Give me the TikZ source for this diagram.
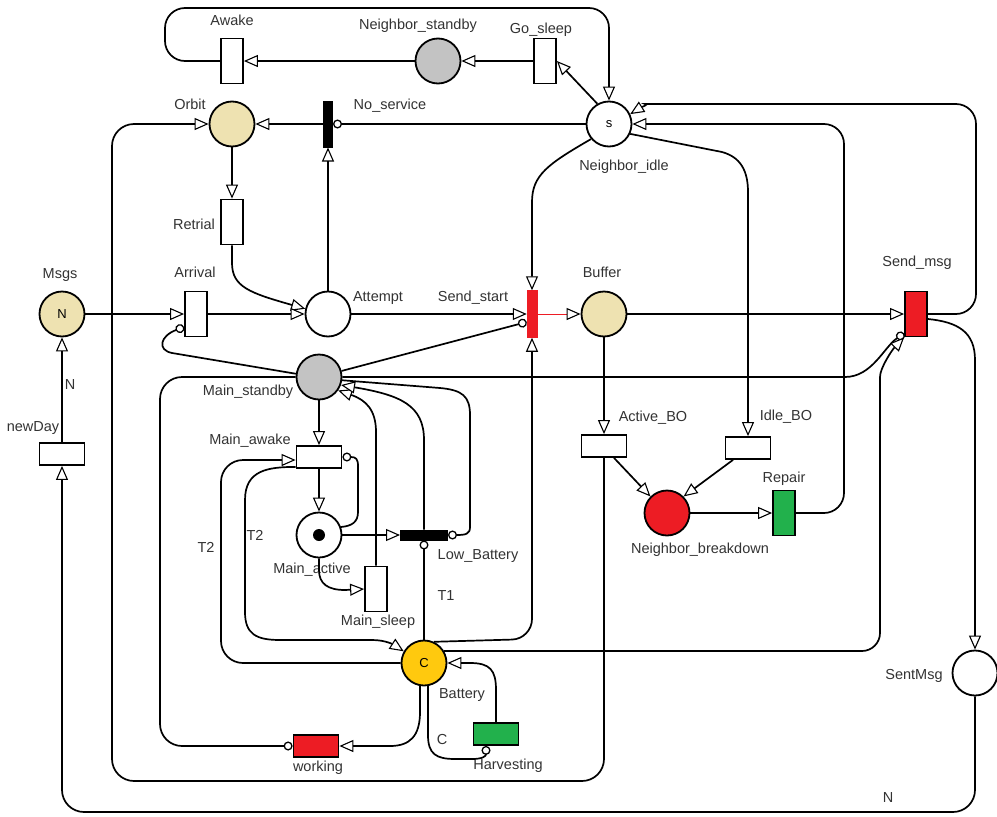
\documentclass[tikz,border=0pt]{standalone}
\usepackage{fontspec}
\setmainfont{Liberation Sans}
\usetikzlibrary{arrows.meta,calc}
\definecolor{beige}{HTML}{EEE2B1}
\definecolor{pgray}{HTML}{C3C3C3}
\definecolor{pyellow}{HTML}{FFC90E}
\definecolor{pred}{HTML}{ED1C24}
\definecolor{pgreen}{HTML}{22B14C}
\definecolor{txt}{HTML}{333333}
\begin{document}
\begin{tikzpicture}[x=1pt,y=-1pt,
  place/.style={circle,draw=black,line width=1.8pt,minimum size=45pt,inner sep=0pt,font=\fontsize{13}{15}\selectfont},
  trv/.style={rectangle,draw=black,line width=1.8pt,minimum width=22pt,minimum height=45pt,inner sep=0pt,fill=white},
  trh/.style={rectangle,draw=black,line width=1.8pt,minimum width=45pt,minimum height=22pt,inner sep=0pt,fill=white},
  lbl/.style={text=txt,font=\fontsize{14.5}{16}\selectfont,inner sep=0pt},
  arc/.style={line width=1.7pt,draw=black},
  ar/.style={arc,-{Triangle[fill=white,length=14pt,width=12pt,line width=1.1pt]}},
  inh/.style={arc,-{Circle[fill=white,length=9pt,line width=1.3pt]}},
]
\fill[white] (0,0) rectangle (997,817);
\useasboundingbox (0,0) rectangle (997,817);

% places
\node[place,fill=pgray] (Nsb) at (438,61) {};
\node[place,fill=white] (Nid) at (609,124) {s};
\node[place,fill=beige] (Orb) at (232,124) {};
\node[place,fill=beige] (Msg) at (62,314) {N};
\node[place,fill=white] (Att) at (328,314) {};
\node[place,fill=beige] (Buf) at (604,314) {};
\node[place,fill=pgray] (MSb) at (319,377) {};
\node[place,fill=white] (MAc) at (319,535) {};
\fill[black] (MAc) circle (6);
\node[place,fill=pred] (NBd) at (667,513) {};
\node[place,fill=pyellow] (Bat) at (424,663) {C};
\node[place,fill=white] (Sent) at (975,673) {};

% transitions
\node[trv] (Awk) at (232,61) {};
\node[trv] (GoS) at (545,61) {};
\node[rectangle,fill=black,draw=black,line width=1pt,minimum width=9pt,minimum height=46pt,inner sep=0pt] (NoS) at (328,124) {};
\node[trv] (Ret) at (232,222) {};
\node[trv] (Arr) at (196,314) {};
\node[rectangle,fill=pred,draw=pred,line width=0.5pt,minimum width=10pt,minimum height=47pt,inner sep=0pt] (SSt) at (532,314) {};
\node[trv,fill=pred] (SMs) at (916,314) {};
\node[trh] (ABo) at (604,446) {};
\node[trh] (IBo) at (748,448) {};
\node[trv,fill=pgreen] (Rep) at (784,513) {};
\node[trh] (NDy) at (62,454) {};
\node[trh] (MAw) at (319,457) {};
\node[trv] (MSl) at (376,589) {};
\node[rectangle,fill=black,draw=black,line width=1pt,minimum width=47pt,minimum height=10pt,inner sep=0pt] (LBt) at (424,535) {};
\node[trh,fill=pred] (Wrk) at (316,746) {};
\node[trh,fill=pgreen] (Hrv) at (496,734) {};

% labels
\node[lbl] (l1) at (232,20) {Awake};
\node[lbl] (l2) at (418,26) {Neighbor\_standby};
\node[lbl] (l3) at (541,30) {Go\_sleep};
\node[lbl] (l4) at (190,104) {Orbit};
\node[lbl] (l5) at (390,106) {No\_service};
\node[lbl] (l6) at (624,167) {Neighbor\_idle};
\node[lbl] (l7) at (194,224) {Retrial};
\node[lbl] (l8) at (60,275) {Msgs};
\node[lbl] (l9) at (195,272) {Arrival};
\node[lbl] (l10) at (378,298) {Attempt};
\node[lbl] (l11) at (473,298) {Send\_start};
\node[lbl] (l12) at (602,272) {Buffer};
\node[lbl] (l13) at (917,263) {Send\_msg};
\node[lbl] (l14) at (248,392) {Main\_standby};
\node[lbl] (l15) at (33,428) {newDay};
\node[lbl] (l16) at (70,385) {N};
\node[lbl] (l17) at (250,441) {Main\_awake};
\node[lbl] (l18) at (653,418) {Active\_BO};
\node[lbl] (l19) at (786,417) {Idle\_BO};
\node[lbl] (l20) at (784,479) {Repair};
\node[lbl] (l21) at (700,550) {Neighbor\_breakdown};
\node[lbl] (l22) at (206,547) {T2};
\node[lbl] (l23) at (255,535) {T2};
\node[lbl] (l24) at (312,570) {Main\_active};
\node[lbl] (l25) at (478,556) {Low\_Battery};
\node[lbl] (l26) at (446,596) {T1};
\node[lbl] (l27) at (378,622) {Main\_sleep};
\node[lbl] (l28) at (462,695) {Battery};
\node[lbl] (l29) at (442,740) {C};
\node[lbl] (l30) at (318,768) {working};
\node[lbl] (l31) at (508,766) {Harvesting};
\node[lbl] (l32) at (914,676) {SentMsg};
\node[lbl] (l33) at (888,798) {N};

% arcs - top
\draw[ar] (Nid.120) -- (GoS.east);
\draw[ar] (GoS) -- (Nsb);
\draw[ar] (Nsb) -- (Awk);
\draw[ar,rounded corners=20pt] (Awk.west) -- (165,61) -- (165,8) -- (609,8) -- (Nid.north);
\draw[inh] (Nid.west) -- (NoS.east);
\draw[ar] (NoS) -- (Orb);
\draw[ar] (Att) -- (NoS);
\draw[ar] (Orb) -- (Ret);
\draw[ar] (Ret.south) -- (232,263) .. controls (232,287) and (250,293) .. (Att.167);
\draw[ar] (Msg) -- (Arr);
\draw[ar] (Arr) -- (Att);
\draw[ar] (Att) -- (SSt);
\draw[draw=pred,line width=1pt,-{Triangle[color=black,fill=white,length=14pt,width=12pt,line width=1.1pt]}] (SSt) -- (Buf);
\draw[ar] (Buf) -- (SMs);

% Main_standby arcs
\draw[inh] (MSb.172) -- (172,353) .. controls (157,350) and (160,336) .. ($(Arr.west)+(0,13)$);
\draw[inh] (MSb.15) -- ($(SSt.west)+(0,8)$);
\draw[inh] (MSb.east) -- (845,377) .. controls (872,377) and (884,347) .. ($(SMs.south west)+(0,-4)$);
\draw[inh,rounded corners=22pt] (MSb.west) -- (160,377) -- (160,746) -- (Wrk.west);
\draw[ar] (MSb) -- (MAw);
\draw[ar] (MAw) -- (MAc);
\draw[inh] (MAc.20) .. controls (352,526) and (358,522) .. (358,512) -- (358,466) .. controls (358,459) and (356,457) .. (MAw.east);
\draw[ar] (MAc) -- (LBt);
\draw[ar] (MAc.south) -- (319,570) .. controls (319,584) and (328,590) .. (345,590) -- (MSl.west);
\draw[ar] (MSl.north) -- (376,432) .. controls (376,410) and (366,400) .. (MSb.-35);
\draw[ar] (LBt.north) -- (424,440) .. controls (424,405) and (400,395) .. (MSb.-20);
\draw[inh] (MSb.-8) -- (440,388) .. controls (462,390) and (470,396) .. (470,415) -- (470,527) .. controls (470,534) and (466,535) .. (LBt.east);

% Battery arcs
\draw[inh] (Bat.north) -- (LBt.south);
\draw[ar,rounded corners=20pt] (Bat.65) -- (532,639) -- (SSt.south);
\draw[ar,rounded corners=18pt] (Bat.31) -- (880,651) -- (880,395) .. controls (880,368) and (892,350) .. (SMs.south west);
\draw[ar] (Bat.-100) -- (420,712) .. controls (420,736) and (410,746) .. (390,746) -- (Wrk.east);
\draw[inh] (Bat.-80) -- (428,735) .. controls (428,754) and (436,759) .. (455,759) -- (472,759) .. controls (483,759) and (486,756) .. ($(Hrv.south)+(-10,0)$);
\draw[ar] (Hrv.north) -- (496,690) .. controls (496,670) and (490,663) .. (470,663) -- (Bat.east);
\draw[ar,rounded corners=22pt] (Bat.west) -- (221,663) -- (221,460) -- ($(MAw.west)+(0,3)$);
\draw[ar] ($(MAw.south west)+(0,-2)$) .. controls (268,467) and (245,470) .. (245,500) -- (245,612) .. controls (245,634) and (256,640) .. (280,640) -- (372,640) .. controls (386,640) and (394,645) .. (Bat.150);

% right side
\draw[ar,rounded corners=20pt] (SMs.east) -- (976,314) -- (976,104) -- (665,104) .. controls (650,104) and (640,108) .. (Nid.25);
\draw[ar,rounded corners=20pt] (Rep.east) -- (844,513) -- (844,124) -- (Nid.east);
\draw[ar] (Nid.-25) -- (722,152) .. controls (740,157) and (748,170) .. (748,192) -- (IBo.north);
\draw[ar] (Nid.220) .. controls (548,164) and (532,175) .. (532,202) -- (SSt.north);
\draw[ar] (Buf) -- (ABo);
\draw[ar] ($(ABo.south)+(10,0)$) -- (NBd.135);
\draw[ar] ($(IBo.south)+(-15,0)$) -- (NBd.45);
\draw[ar] (NBd) -- (Rep);
\draw[ar,rounded corners=22pt] (ABo.south) -- (604,781) -- (112,781) -- (112,124) -- (Orb.west);
\draw[ar] ($(SMs.east)+(0,5)$) .. controls (958,322) and (975,332) .. (975,360) -- (Sent.north);
\draw[ar,rounded corners=22pt] (Sent.south) -- (975,812) -- (62,812) -- (NDy.south);
\draw[ar] (NDy) -- (Msg);
\end{tikzpicture}
\end{document}
